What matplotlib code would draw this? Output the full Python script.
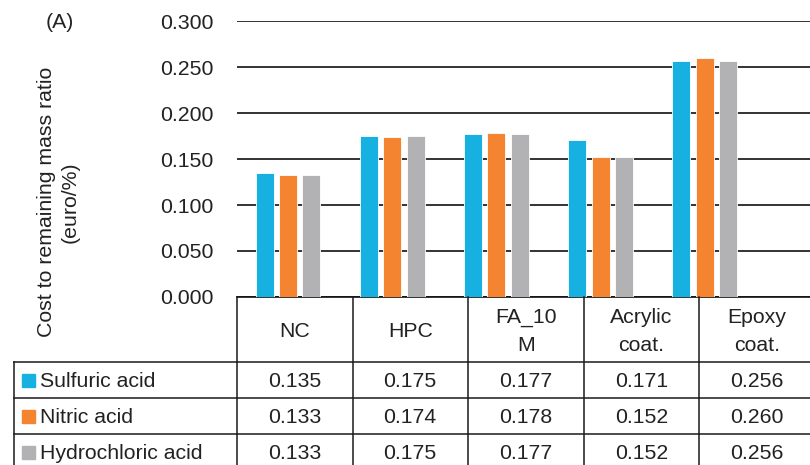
import matplotlib
matplotlib.use("Agg")
import matplotlib.pyplot as plt
import numpy as np

plt.rcParams['font.family'] = ['Liberation Sans', 'DejaVu Sans']

categories = ["NC", "HPC", "FA_10\nM", "Acrylic\ncoat.", "Epoxy\ncoat."]
series_names = ["Sulfuric acid", "Nitric acid", "Hydrochloric acid"]
sulfuric = [0.135, 0.175, 0.177, 0.171, 0.256]
nitric = [0.133, 0.174, 0.178, 0.152, 0.260]
hydrochloric = [0.133, 0.175, 0.177, 0.152, 0.256]
colors = ["#17B1E1", "#F58430", "#B2B2B5"]
yticks = [0.0, 0.05, 0.10, 0.15, 0.20, 0.25, 0.30]

W, H = 810, 465
fig = plt.figure(figsize=(W / 100, H / 100), dpi=100)

# plot axes (pixel geometry)
ax_l, ax_r, ax_t, ax_b = 237, 810, 21, 297
ax = fig.add_axes([ax_l / W, 1 - ax_b / H, (ax_r - ax_l) / W, (ax_b - ax_t) / H])
x = np.arange(len(categories))
bw = 0.173
step = 0.224
for k, (vals, c) in enumerate(zip([sulfuric, nitric, hydrochloric], colors)):
    ax.bar(x + (k - 1) * step, vals, width=bw, color=c, edgecolor="white",
           linewidth=0.6, zorder=3)
ax.set_ylim(0, 0.30)
ax.set_xlim(-0.49, 5.01)
ax.set_yticks(yticks)
ax.set_yticklabels([f"{v:.3f}" for v in yticks], fontsize=15.3, color="#222222")
ax.tick_params(axis="y", length=0, pad=17)
ax.set_xticks([])
ax.grid(axis="y", color="#111111", linewidth=1.2, zorder=0)
for s in ["top", "right", "left"]:
    ax.spines[s].set_visible(False)
ax.spines["bottom"].set_color("#111111")
ax.spines["bottom"].set_linewidth(1.2)

# overlay axes for data table in pixel coordinates
ov = fig.add_axes([0, 0, 1, 1], facecolor="none")
ov.set_xlim(0, W)
ov.set_ylim(H, 0)
ov.axis("off")
lc = "#1a1a1a"
lw = 1.1
col0 = 237
colw = 115.5
hdr_top, hdr_bot = 297, 362
rowh = 36
leg_left = 14
nrows = len(series_names)
table_bottom = hdr_bot + rowh * nrows

# horizontal lines
for i in range(nrows + 1):
    yy = hdr_bot + i * rowh
    ov.plot([leg_left, W], [yy, yy], color=lc, lw=lw)
# vertical lines
ov.plot([leg_left, leg_left], [hdr_bot, table_bottom], color=lc, lw=lw)
for j in range(len(categories) + 1):
    xx = col0 + j * colw
    ov.plot([xx, xx], [hdr_top, table_bottom], color=lc, lw=lw)

# header text
for j, cat in enumerate(categories):
    ov.text(col0 + (j + 0.5) * colw, (hdr_top + hdr_bot) / 2 + 2, cat,
            ha="center", va="center", fontsize=15.3, color="#222222",
            linespacing=1.6)

# rows
for i, (name, vals, c) in enumerate(zip(series_names,
                                        [sulfuric, nitric, hydrochloric], colors)):
    yc = hdr_bot + (i + 0.5) * rowh
    ov.add_patch(plt.Rectangle((22, yc - 6.5), 13, 13, color=c))
    ov.text(40, yc + 1, name, ha="left", va="center", fontsize=15.3, color="#222222")
    for j, v in enumerate(vals):
        ov.text(col0 + (j + 0.5) * colw, yc + 1, f"{v:.3f}", ha="center",
                va="center", fontsize=15.3, color="#222222")

# labels
fig.text(58 / W, 1 - 202 / H, "Cost to remaining mass ratio\n(euro/%)",
         rotation=90, ha="center", va="center", fontsize=15.3, color="#222222",
         linespacing=1.3)
fig.text(60 / W, 1 - 22 / H, "(A)", ha="center", va="center", fontsize=15.3,
         color="#222222")

fig.savefig("out.png", dpi=100)
